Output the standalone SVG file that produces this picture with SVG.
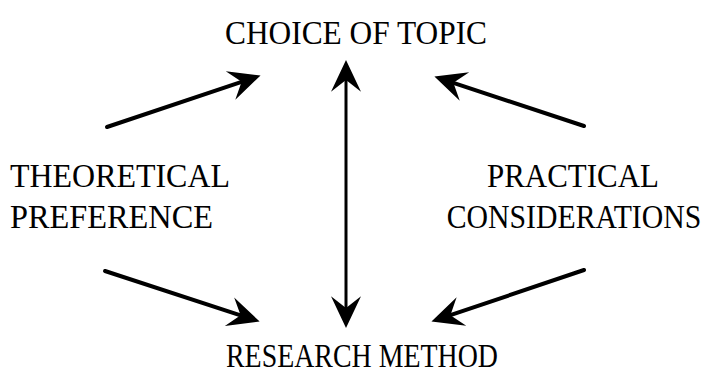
<svg xmlns="http://www.w3.org/2000/svg" width="717" height="378" viewBox="0 0 717 378">
<defs>
<style>
.t{font-family:"Liberation Serif","Times New Roman",serif;font-size:34px;fill:#000}
.c{stroke:#000;stroke-width:4;fill:none;stroke-linecap:round}
.v{stroke:#000;stroke-width:3;fill:none}
</style>
<marker id="ah" markerUnits="userSpaceOnUse" markerWidth="40" markerHeight="40" viewBox="-10 -12 24 24" refX="0" refY="0" orient="auto-start-reverse" overflow="visible">
<path d="M12,0 L-7,-9 L0,0 L-7,9 Z" fill="#000"/>
</marker>
</defs>
<rect width="717" height="378" fill="#fff"/>
<g id="choice"><text class="t" x="356" y="44" text-anchor="middle" textLength="262" lengthAdjust="spacingAndGlyphs">CHOICE OF TOPIC</text></g>
<g id="theoretical"><text class="t" x="10" y="187" textLength="220" lengthAdjust="spacingAndGlyphs">THEORETICAL</text><text class="t" x="10" y="228" textLength="203" lengthAdjust="spacingAndGlyphs">PREFERENCE</text></g>
<g id="practical"><text class="t" x="573" y="187" text-anchor="middle" textLength="172" lengthAdjust="spacingAndGlyphs">PRACTICAL</text><text class="t" transform="translate(574,228) scale(0.875,1)" x="0" y="0" text-anchor="middle">CONSIDERATIONS</text></g>
<g id="method"><text class="t" x="362" y="367" text-anchor="middle" textLength="272" lengthAdjust="spacingAndGlyphs">RESEARCH METHOD</text></g>
<g id="connectors">
<line class="c" x1="107" y1="127" x2="241.6" y2="81.8" marker-end="url(#ah)"/>
<line class="c" x1="584" y1="126" x2="453.4" y2="82.8" marker-end="url(#ah)"/>
<line class="c" x1="105" y1="271" x2="240.6" y2="315.3" marker-end="url(#ah)"/>
<line class="c" x1="584" y1="270" x2="450.4" y2="315.2" marker-end="url(#ah)"/>
<line class="v" x1="346" y1="80" x2="346" y2="308" marker-start="url(#ah)" marker-end="url(#ah)"/>
</g>
</svg>
